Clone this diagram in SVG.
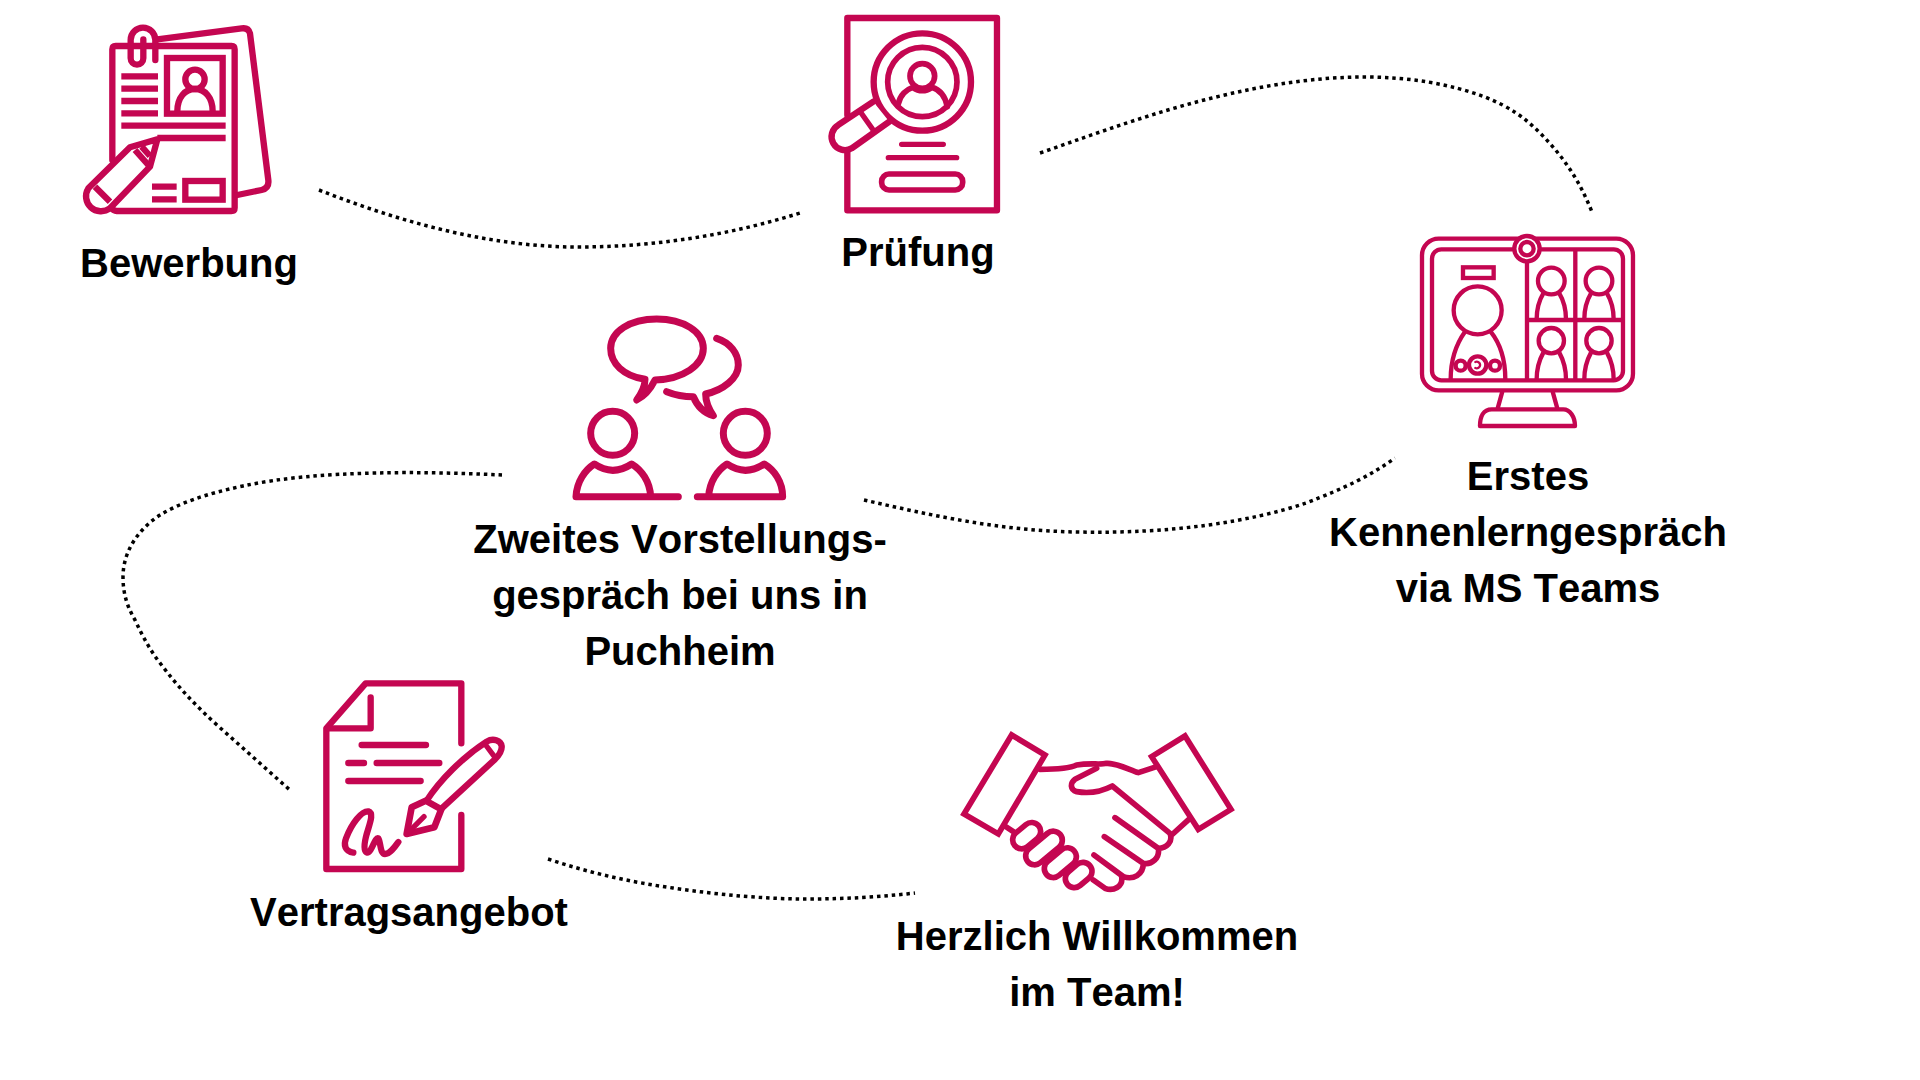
<svg xmlns="http://www.w3.org/2000/svg" width="1920" height="1080" viewBox="0 0 1920 1080">
<style>
.i{fill:none;stroke:#c40651;stroke-linejoin:round;stroke-linecap:round}
.b{stroke-linecap:butt;stroke-linejoin:miter}
.w{fill:#fff}
.c{fill:none;stroke:#000;stroke-width:3.5;stroke-dasharray:3.5 3.9;stroke-linecap:butt}
text{font-family:"Liberation Sans",Arial,sans-serif;font-weight:700;font-size:40px;fill:#000;text-anchor:middle;font-kerning:none}
</style>
<rect width="1920" height="1080" fill="#fff"/>
<g id="connectors">
<path class="c" d="M319 190C400 222 490 247 577 247C655 247 730 235 800 213"/>
<path class="c" d="M1040 153C1100 132 1155 112 1212 98C1265 85 1315 77 1365 77C1410 77 1450 84 1485 97C1510 107 1525 118 1539 132C1565 158 1580 182 1592 212"/>
<path class="c" d="M864 500C930 515 1000 531 1078 532C1170 534 1250 522 1306 503C1345 488 1370 476 1395 458"/>
<path class="c" d="M502 475C460 473 415 472 377 473C325 474 280 478 243 486C205 494 180 503 160 515C140 528 123 550 123 577C123 595 128 608 135 620C143 637 150 650 160 663C178 687 195 705 217 725L291 791"/>
<path class="c" d="M548 859C590 873 630 882 673 888C720 895 765 899 807 899C845 899 880 897 915 893"/>
</g>
<g id="bewerbung">
<g class="i" transform="translate(60 10) scale(.3333)" stroke-width="19">
<path d="M157 450V118Q157 108 167 108H515Q524 108 524 118V593Q524 603 514 603H170Q160 603 150 590"/>
<path d="M292 88L545 55Q565 52 570 70L625 510Q628 535 605 540L532 555"/>
<path d="M286 150V90A36 36 0 0 0 212 90V145A18 18 0 0 0 250 145V88"/>
<rect class="b" x="321" y="144" width="167" height="167"/>
<circle cx="405" cy="208" r="29"/>
<path class="b" d="M352 304C352 262 375 237 405 237C435 237 458 262 458 304"/>
<path class="b" d="M184 199H294M184 236H294M184 273H294M184 310H294M184 347H497M292 384H497M276 530H350M276 568H350"/>
<rect class="b" x="376" y="513" width="112" height="56"/>
<path class="w" d="M292 388L210 412L85 535A45 45 0 0 0 150 595L270 470Z"/>
<path class="b" d="M105 530L150 575M225 420L265 465M245 410L270 438"/>
</g>
<text x="189" y="277">Bewerbung</text>
</g>
<g id="pruefung">
<g class="i" transform="translate(810 0) scale(.3333)" stroke-width="19">
<path d="M112 345V54H561V631H112V450"/>
<circle class="w" cx="337" cy="246" r="146"/>
<circle cx="337" cy="246" r="104" stroke-width="17"/>
<circle cx="337" cy="228" r="37" stroke-width="17"/>
<path stroke-width="17" d="M265 312C270 285 290 268 308 262Q337 282 366 262C385 268 405 285 412 320"/>
<path class="w" d="M190 305L85 375A40 40 0 0 0 125 445L238 365"/>
<path stroke-width="16" d="M153 338L188 388"/>
<path stroke-width="16" d="M275 433H400M235 473H440"/>
<rect x="215" y="522" width="243" height="48" rx="22" stroke-width="17"/>
</g>
<text x="918" y="266">Prüfung</text>
</g>
<g id="erstes-gespraech">
<g class="i" transform="translate(1400 220) scale(.3333)" stroke-width="13">
<rect x="66" y="56" width="633" height="455" rx="50"/>
<rect x="96" y="88" width="573" height="393" rx="28"/>
<path class="b" d="M381 125V481M526 88V481M381 300H669"/>
<circle class="w" cx="381" cy="86" r="38"/>
<circle cx="381" cy="86" r="20"/>
<rect class="b" x="189" y="142" width="92" height="32"/>
<circle cx="233" cy="271" r="72"/>
<path class="b" d="M152 478C152 420 170 370 195 335M272 335C300 370 316 420 316 478"/>
<circle cx="182" cy="437" r="15"/><circle cx="285" cy="437" r="15"/><circle cx="233" cy="435" r="26"/>
<path stroke-width="7" d="M226 426A10 10 0 1 1 226 444"/>
<circle cx="454" cy="183" r="40"/><circle cx="597" cy="183" r="40"/><circle cx="454" cy="362" r="38"/><circle cx="597" cy="362" r="38"/>
<path class="b" d="M410 298C410 265 418 240 430 220M478 220C490 240 498 265 498 298M553 298C553 265 561 240 573 220M621 220C633 240 641 265 641 298M410 478C410 445 418 420 430 398M478 398C490 420 498 445 498 478M553 478C553 445 561 420 573 398M621 398C633 420 641 445 641 478"/>
<path class="b" d="M307 515L293 565M458 515L472 565"/>
<path d="M240 618C240 590 250 568 275 568H490C510 568 525 590 525 618Z"/>
</g>
<text x="1528" y="490">Erstes</text>
<text x="1528" y="546">Kennenlerngespräch</text>
<text x="1528" y="602">via MS Teams</text>
</g>
<g id="zweites-gespraech">
<g class="i" transform="translate(560 300) scale(.3333)" stroke-width="21">
<path d="M255 238C190 228 152 190 152 145C152 95 210 57 290 57C370 57 430 95 430 145C430 195 370 238 285 240C275 260 260 285 230 300C245 280 255 260 255 238Z"/>
<path d="M470 115C510 128 535 160 535 195C535 235 490 270 437 282C437 305 445 325 460 347C430 338 410 315 400 290C375 290 345 285 320 275"/>
<circle cx="158" cy="400" r="66"/><circle cx="556" cy="400" r="66"/>
<path d="M48 590C50 545 75 510 103 492Q158 530 215 492C245 510 270 545 272 590M48 590H355M446 590C448 545 473 510 501 492Q556 530 613 492C643 510 668 545 668 590M412 590H668"/>
</g>
<text x="680" y="553">Zweites Vorstellungs-</text>
<text x="680" y="609">gespräch bei uns in</text>
<text x="680" y="665">Puchheim</text>
</g>
<g id="vertragsangebot">
<g class="i" transform="translate(310 670) scale(.3333)" stroke-width="19">
<path d="M454 220V40H167L49 175V597H454V435"/>
<path d="M182 82V175H55"/>
<path d="M155 225H348M115 279H162M200 279H388M115 333H332"/>
<path d="M350 392C390 330 460 260 530 215C550 203 572 212 575 228C577 245 565 258 555 268L392 418"/>
<path stroke-width="20" d="M347 392L305 412L290 492L373 472L394 418Z"/>
<path stroke-width="16" d="M525 222L555 262M298 484L342 440"/>
<path d="M130 548C105 545 100 525 108 505C125 460 155 422 175 424C195 430 175 470 168 500C162 525 160 545 172 548C185 548 195 500 205 505C212 515 210 552 225 552C240 552 255 530 265 516"/>
</g>
<text x="409" y="926">Vertragsangebot</text>
</g>
<g id="willkommen">
<g class="i" transform="translate(950 720) scale(.3333)" stroke-width="17">
<path d="M270 148C320 148 360 145 380 135C420 128 450 135 470 130C500 128 540 150 565 158L620 140"/>
<path d="M440 145L375 178C360 190 360 210 380 215C420 222 460 212 487 198L660 340C670 365 650 385 625 385L495 293M625 385C630 415 605 435 580 430L463 350M580 430C580 465 550 480 520 470L432 405M515 470C520 500 490 515 465 505L430 480M665 345L720 295M160 315L190 335"/>
<path class="b w" d="M185 45L285 105L145 342L42 282Z"/>
<path class="b w" d="M605 110L705 48L843 268L745 328Z"/>
<rect class="w" x="183.500" y="320" width="93" height="54" rx="27" transform="rotate(-40 230 347)"/>
<rect class="w" x="218.500" y="357" width="127" height="54" rx="27" transform="rotate(-40 282 384)"/>
<rect class="w" x="276.500" y="401" width="109" height="54" rx="27" transform="rotate(-40 331 428)"/>
<rect class="w" x="342" y="438" width="88" height="54" rx="27" transform="rotate(-40 386 465)"/>
</g>
<text x="1097" y="950">Herzlich Willkommen</text>
<text x="1097" y="1006">im Team!</text>
</g>
</svg>
